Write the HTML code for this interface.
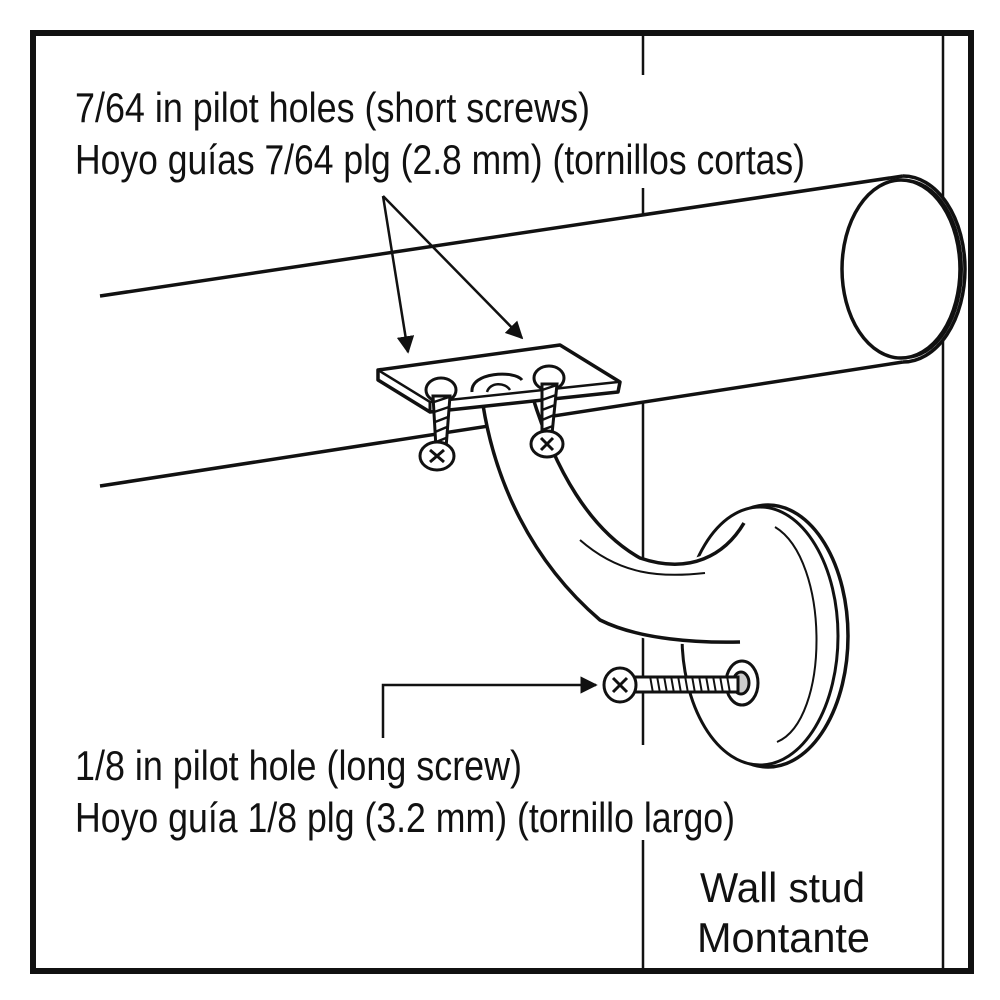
<!DOCTYPE html>
<html><head><meta charset="utf-8"><style>
html,body{margin:0;padding:0;background:#fff}
svg{display:block}
text{font-family:"Liberation Sans",sans-serif;fill:#111}
</style></head><body>
<svg width="1000" height="1000" viewBox="0 0 1000 1000" xmlns="http://www.w3.org/2000/svg">
<defs>
<marker id="ah" viewBox="0 0 10 10" refX="9" refY="5" markerWidth="7" markerHeight="7" orient="auto-start-reverse">
<path d="M0,0 L10,5 L0,10 z" fill="#111"/></marker>
</defs>
<rect x="0" y="0" width="1000" height="1000" fill="#fff"/>
<line x1="643" y1="34" x2="643" y2="970" stroke="#111" stroke-width="2.5"/>
<line x1="943" y1="34" x2="943" y2="970" stroke="#111" stroke-width="2.5"/>
<rect x="70" y="84" width="530" height="100" fill="#fff"/>
<rect x="590" y="75" width="225" height="113" fill="#fff"/>
<rect x="70" y="745" width="680" height="95" fill="#fff"/>
<rect x="690" y="865" width="190" height="95" fill="#fff"/>
<path d="M100,296 L903,176 A62,93 0 0 1 903,362 L100,486" fill="#fff" stroke="none"/>
<path d="M100,296 L903,176" stroke="#111" stroke-width="3.5" fill="none"/>
<path d="M100,486 L903,362" stroke="#111" stroke-width="3.5" fill="none"/>
<path d="M903,176 A62,93 0 0 1 903,362" fill="none" stroke="#111" stroke-width="3.5"/>
<path d="M905,180 A57,89 0 0 1 905,358" fill="none" stroke="#111" stroke-width="2"/>
<ellipse cx="901" cy="269" rx="59" ry="89" fill="#fff" stroke="#111" stroke-width="3.5"/>
<ellipse cx="768" cy="636" rx="80" ry="131" fill="#fff" stroke="#111" stroke-width="3.5"/>
<ellipse cx="760" cy="636" rx="78" ry="129" fill="#fff" stroke="#111" stroke-width="3"/>
<path d="M775,527 C830,560 830,720 777,742" fill="none" stroke="#111" stroke-width="2"/>
<path d="M483,405 C495,480 530,560 600,620 C650,650 700,645 740,642 L740,640 C720,620 700,570 745,522 C720,555 680,570 640,558 C600,540 560,470 532,395 Z" fill="#fff" stroke="none"/>
<path d="M483,405 C495,480 530,560 600,620 C640,640 700,643 740,642" fill="none" stroke="#111" stroke-width="3.5"/>
<path d="M532,395 C555,470 590,530 640,558 C690,575 725,555 744,523" fill="none" stroke="#111" stroke-width="3.5"/>
<path d="M580,540 C620,575 660,578 705,573" fill="none" stroke="#111" stroke-width="2"/>
<path d="M378,370 L560,345 L620,382 L618,392 L430,412 L378,380 Z" fill="#fff" stroke="#111" stroke-width="3.5" stroke-linejoin="round"/>
<path d="M378,370 L430,402 L618,382" fill="none" stroke="#111" stroke-width="2.5"/>
<path d="M430,402 L430,412" stroke="#111" stroke-width="3"/>
<path d="M472,392 C470,372 515,370 522,380" fill="none" stroke="#111" stroke-width="3"/>
<path d="M487,392 C490,382 505,382 510,390" fill="none" stroke="#111" stroke-width="2.5"/>
<g stroke="#111" stroke-width="3" fill="#fff">
<ellipse cx="441" cy="390" rx="15" ry="12"/>
<path d="M433,396 L436,448 L446,448 L450,396 Z"/>
<ellipse cx="437" cy="456" rx="17" ry="14"/>
<path d="M430,450 L444,462 M444,450 L430,462" stroke-width="3"/>
<ellipse cx="549" cy="378" rx="15" ry="12"/>
<path d="M542,384 L542,434 L552,434 L557,384 Z"/>
<ellipse cx="547" cy="444" rx="16" ry="13"/>
<path d="M541,438 L553,450 M553,438 L541,450" stroke-width="3"/>
</g>
<g stroke="#111" stroke-width="2.5">
<path d="M434,402 L449,397 M434,412 L449,407 M435,422 L448,417 M435,432 L447,427 M436,442 L446,438"/>
<path d="M542,390 L557,385 M542,400 L556,395 M542,410 L555,405 M542,420 L554,415 M542,430 L553,426"/>
</g>
<g stroke="#111" stroke-width="3" fill="#fff">
<ellipse cx="742" cy="683" rx="16" ry="22"/>
<ellipse cx="741" cy="683" rx="8" ry="11" fill="#ccc"/>
<path d="M630,677 L738,677 L738,692 L630,692 Z"/>
<ellipse cx="620" cy="685" rx="16" ry="17"/>
<path d="M613,678 L627,692 M627,678 L613,692" stroke-width="3"/>
</g>
<g stroke="#111" stroke-width="2">
<path d="M650,676 L653,693 M657,676 L660,693 M664,676 L667,693 M671,676 L674,693 M678,676 L681,693 M685,676 L688,693 M692,676 L695,693 M699,676 L702,693 M706,676 L709,693 M713,676 L716,693 M720,676 L723,693 M727,676 L730,693"/>
</g>
<line x1="383" y1="196" x2="408" y2="352" stroke="#111" stroke-width="2.5" marker-end="url(#ah)"/>
<line x1="383" y1="196" x2="522" y2="338" stroke="#111" stroke-width="2.5" marker-end="url(#ah)"/>
<path d="M383,738 L383,685 L596,685" fill="none" stroke="#111" stroke-width="2.5" marker-end="url(#ah)"/>
<rect x="33" y="33" width="938" height="938" fill="none" stroke="#111" stroke-width="6"/>
<text x="75" y="122" font-size="42" textLength="515" lengthAdjust="spacingAndGlyphs">7/64 in pilot holes (short screws)</text>
<text x="75" y="174" font-size="42" textLength="730" lengthAdjust="spacingAndGlyphs">Hoyo guías 7/64 plg (2.8 mm) (tornillos cortas)</text>
<text x="75" y="780" font-size="42" textLength="447" lengthAdjust="spacingAndGlyphs">1/8 in pilot hole (long screw)</text>
<text x="75" y="832" font-size="42" textLength="660" lengthAdjust="spacingAndGlyphs">Hoyo guía 1/8 plg (3.2 mm) (tornillo largo)</text>
<text x="700" y="902" font-size="42" textLength="165" lengthAdjust="spacingAndGlyphs">Wall stud</text>
<text x="697" y="952" font-size="42" textLength="173" lengthAdjust="spacingAndGlyphs">Montante</text>
</svg>
</body></html>
